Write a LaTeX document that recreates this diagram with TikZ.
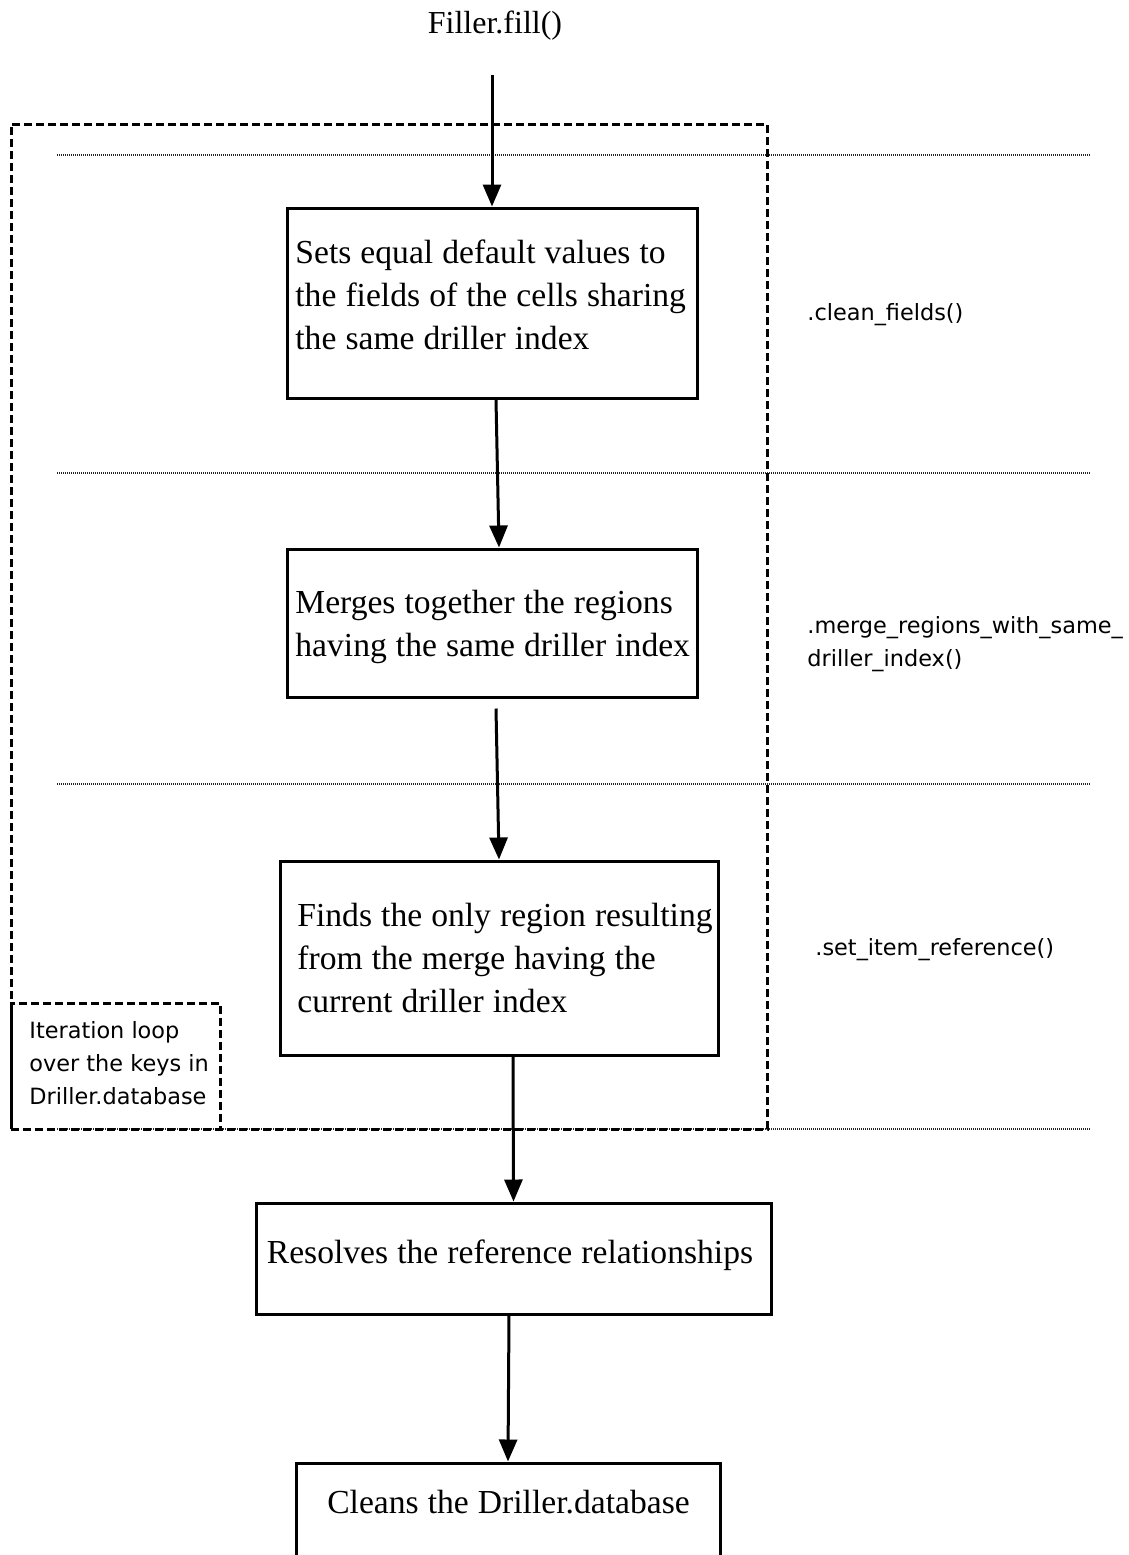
\documentclass[tikz,border=0pt]{standalone}
\usepackage{fontspec}
\setmainfont{Liberation Serif}[WordSpace=1.08]
\newfontfamily\lblfont{DejaVu Sans}
\usetikzlibrary{arrows.meta}
\newcommand\natspace{\spaceskip=0pt\xspaceskip=0pt\relax}
\begin{document}
\begin{tikzpicture}[x=0.5pt,y=-0.5pt,
  stepbox/.style={draw=black, line width=1.5pt, rectangle, inner sep=0pt},
  dashbox/.style={draw=black, line width=1.5pt, dash pattern=on 4pt off 2pt, rectangle, inner sep=0pt},
  sepline/.style={draw=black!85, line width=0.6pt, dash pattern=on 0.5pt off 0.5pt},
  flow/.style={line width=1.5pt, -{Triangle[length=11pt,width=9pt]}},
  txt/.style={font=\fontsize{16.8}{21.5}\selectfont, inner sep=0pt},
  ptxt/.style={txt, anchor=base west, align=left, text width=230pt},
  lbl/.style={font=\lblfont\fontsize{11.2}{16.5}\selectfont, inner sep=0pt, anchor=base west, align=left, text width=170pt}]
\useasboundingbox (0,0) rectangle (1129,1555);
\clip (0,0) rectangle (1129,1555);

% dotted separators
\draw[sepline] (57,155) -- (1091,155);
\draw[sepline] (57,473) -- (1091,473);
\draw[sepline] (57,784) -- (1091,784);
\draw[sepline] (57,1129) -- (1091,1129);

% loop frame and note box
\node[dashbox, minimum width=378pt, minimum height=502.5pt] (loop) at (389,626.5) {};
\node[dashbox, minimum width=104.5pt, minimum height=63pt] (notebox) at (115.5,1066) {};

% process boxes
\node[stepbox, minimum width=205pt, minimum height=95pt] (b1) at (492,303) {};
\node[stepbox, minimum width=205pt, minimum height=74pt] (b2) at (492,623) {};
\node[stepbox, minimum width=219pt, minimum height=97pt] (b3) at (499,958) {};
\node[stepbox, minimum width=257.5pt, minimum height=55.5pt] (b4) at (513.5,1258.5) {};
\node[stepbox, minimum width=212pt, minimum height=75pt] (b5) at (508,1538) {};

% texts
\node[txt, anchor=base, font=\fontsize{16}{20}\selectfont] (title) at (495,33) {Filler.fill()};
\node[ptxt] (t1) at (295,263) {\natspace Sets equal default values to\\the fields of the cells sharing\\the same driller index};
\node[ptxt] (t2) at (295,613) {\natspace Merges together the regions\\having the same driller index};
\node[ptxt] (t3) at (297,926) {\natspace Finds the only region resulting\\from the merge having the\\current driller index};
\node[txt, anchor=base] (t4) at (510,1263) {Resolves the reference relationships};
\node[txt, anchor=base] (t5) at (508.5,1513) {Cleans the Driller.database};

\node[lbl] (m1) at (807,320) {.clean\_fields()};
\node[lbl] (m2) at (807,633) {.merge\_regions\_with\_same\_\\driller\_index()};
\node[lbl] (m3) at (815,955) {.set\_item\_reference()};
\node[lbl] (note) at (29,1038) {\natspace Iteration loop\\over the keys in\\Driller.database};

% connectors
\coordinate (start) at (492,75);
\draw[flow] (start) -- (b1.north);
\draw[flow] ([xshift=2pt]b1.south) -- ([xshift=3.5pt]b2.north);
\draw[flow] ([xshift=2pt,yshift=-5pt]b2.south) -- (b3.north);
\draw[flow] ([xshift=7pt]b3.south) -- (b4.north);
\draw[flow] ([xshift=-2.25pt]b4.south) -- (b5.north);
\end{tikzpicture}
\end{document}
